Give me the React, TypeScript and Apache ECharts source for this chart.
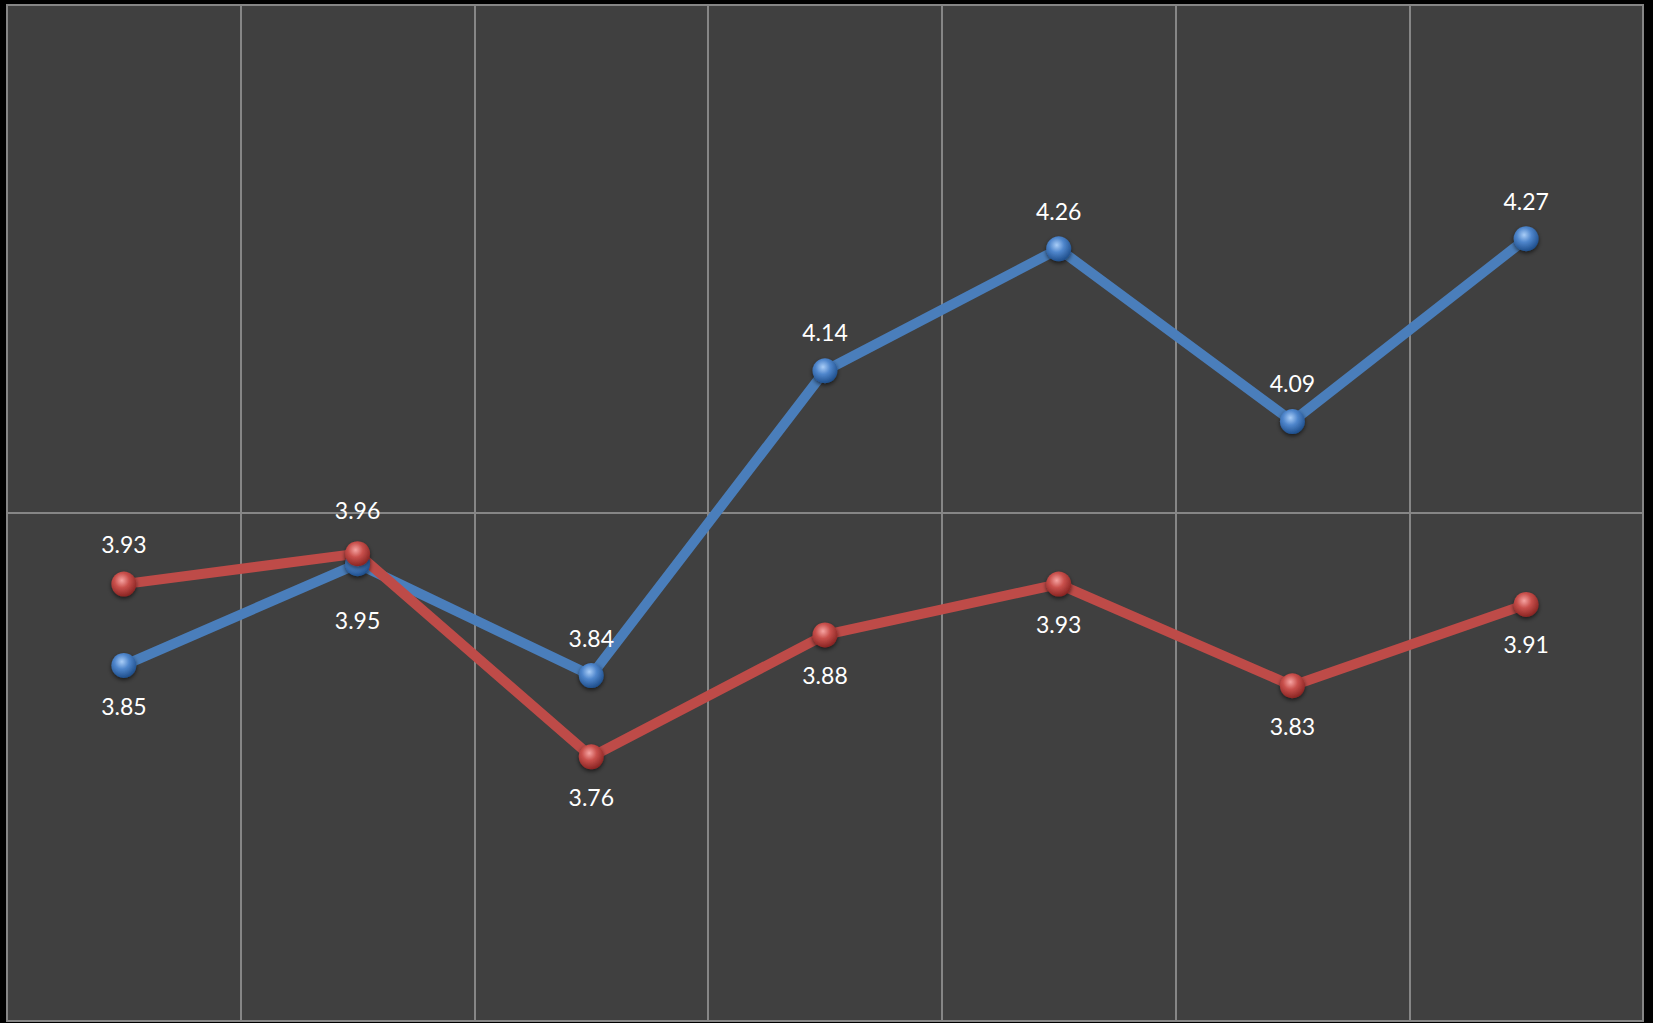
import React, { useEffect, useRef } from "react";
import * as echarts from "echarts";

const categories = ["1", "2", "3", "4", "5", "6", "7"];
const blueValues = [3.85, 3.95, 3.84, 4.14, 4.26, 4.09, 4.27];
const redValues = [3.93, 3.96, 3.76, 3.88, 3.93, 3.83, 3.91];
const bluePos = ["bottom", "bottom", "top", "top", "top", "top", "top"];
const redPos = ["top", "top", "bottom", "bottom", "bottom", "bottom", "bottom"];
const blueLabelGap = [17, 32, 14, 15, 14, 15, 14];
const redLabelGap = [16, 20, 16, 16, 16, 16, 16];

function sphere(light: string, mid: string, dark: string) {
  return new echarts.graphic.RadialGradient(0.42, 0.35, 0.65, [
    { offset: 0, color: light },
    { offset: 0.45, color: mid },
    { offset: 1, color: dark },
  ]);
}

export default function App() {
  const ref = useRef<HTMLDivElement>(null);
  useEffect(() => {
    document.body.style.margin = "0";
    const chart = echarts.init(ref.current!, null, { renderer: "svg" });
    const labelStyle = {
      show: true,
      color: "#ffffff",
      fontSize: 23,
      fontFamily: "Lato, 'Open Sans', sans-serif",
      formatter: (p: any) => p.value.toFixed(2),
    };
    const mk = (vals: number[], pos: string[], gaps: number[]) =>
      vals.map((v, i) => ({
        value: v,
        label: { position: pos[i], distance: gaps[i] },
      }));
    const hiddenAxis = {
      axisLine: { show: false },
      axisTick: { show: false },
      axisLabel: { show: false },
    };
    chart.setOption({
      animation: false,
      backgroundColor: "#000000",
      grid: {
        left: 7,
        right: 10,
        top: 5,
        bottom: 2,
        show: true,
        backgroundColor: "#404040",
        borderColor: "#868686",
        borderWidth: 2,
      },
      xAxis: {
        type: "category",
        data: categories,
        boundaryGap: true,
        ...hiddenAxis,
        splitLine: { show: true, lineStyle: { color: "#868686", width: 2 } },
      },
      yAxis: {
        type: "value",
        min: 3.5,
        max: 4.5,
        interval: 0.5,
        ...hiddenAxis,
        splitLine: { show: true, lineStyle: { color: "#868686", width: 2 } },
      },
      series: [
        {
          type: "line",
          data: mk(blueValues, bluePos, blueLabelGap),
          symbol: "circle",
          symbolSize: 25,
          lineStyle: { color: "#4A7EBB", width: 10 },
          itemStyle: {
            color: sphere("#a9cdf7", "#4f86cc", "#1f4f8c"),
            shadowBlur: 4,
            shadowColor: "rgba(0,0,0,0.6)",
            shadowOffsetY: 2,
          },
          label: labelStyle,
        },
        {
          type: "line",
          data: mk(redValues, redPos, redLabelGap),
          symbol: "circle",
          symbolSize: 25,
          lineStyle: { color: "#BE4B48", width: 10 },
          itemStyle: {
            color: sphere("#f5a3a1", "#c9504c", "#8a2523"),
            shadowBlur: 4,
            shadowColor: "rgba(0,0,0,0.6)",
            shadowOffsetY: 2,
          },
          label: labelStyle,
        },
      ],
    });
    return () => chart.dispose();
  }, []);
  return <div ref={ref} style={{ width: 1653, height: 1023 }} />;
}
